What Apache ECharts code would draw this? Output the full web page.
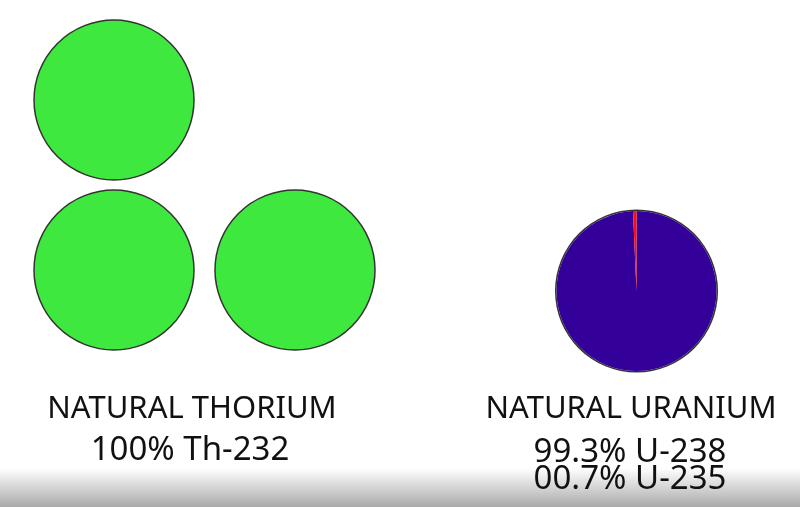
<!DOCTYPE html>
<html>
<head>
<meta charset="utf-8">
<script src="https://cdn.jsdelivr.net/npm/echarts@6/dist/echarts.min.js"></script>
<style>html,body{margin:0;padding:0;background:#fff;}#c{width:800px;height:507px;}</style>
</head>
<body>
<div id="c"></div>
<script>
// Data
const thoriumIsotopes = ['Th-232'];
const thoriumShares = [100];
const uraniumIsotopes = ['U-238', 'U-235'];
const uraniumShares = [99.3, 0.7];
const thoriumLabels = ['NATURAL THORIUM', '100% Th-232'];
const uraniumLabels = ['NATURAL URANIUM', '99.3% U-238', '00.7% U-235'];

const GREEN = '#3ee83e', PURPLE = '#330099', RED = '#ff0a1a', EDGE = '#333333';
const chart = echarts.init(document.getElementById('c'), null, {renderer: 'canvas'});

function thoriumPie(center) {
  return {
    type: 'pie', center: center, radius: 80, silent: true, startAngle: 90,
    label: {show: false}, labelLine: {show: false},
    itemStyle: {color: GREEN, borderColor: EDGE, borderWidth: 1.5},
    data: thoriumIsotopes.map((n, i) => ({name: n, value: thoriumShares[i]}))
  };
}
const font = '"Noto Sans", sans-serif';
chart.setOption({
  animation: false,
  backgroundColor: '#fff',
  series: [
    thoriumPie([114, 100]),
    thoriumPie([114, 270]),
    thoriumPie([295, 270]),
    {
      type: 'pie', center: [636.5, 291], radius: [80, 81.5], silent: true,
      label: {show: false}, labelLine: {show: false},
      itemStyle: {color: EDGE, borderWidth: 0},
      data: [{name: 'outline', value: 1}]
    },
    {
      type: 'pie', center: [636.5, 291], radius: 80, silent: true, startAngle: 90, clockwise: true,
      label: {show: false}, labelLine: {show: false},
      itemStyle: {borderWidth: 0},
      data: uraniumIsotopes.map((n, i) => ({name: n, value: uraniumShares[i], itemStyle: {color: i === 0 ? PURPLE : RED}}))
    }
  ],
  graphic: [
    {type: 'rect', z: -1, shape: {x: 0, y: 468, width: 800, height: 39},
     style: {fill: new echarts.graphic.LinearGradient(0, 0, 0, 1, [
       {offset: 0, color: 'rgba(255,255,255,1)'},
       {offset: 1, color: 'rgba(170,170,170,1)'}])}},
    {type: 'text', x: 192, y: 409, style: {text: thoriumLabels[0], font: '31px ' + font, fill: '#111', align: 'center', verticalAlign: 'middle'}},
    {type: 'text', x: 190, y: 451, style: {text: thoriumLabels[1], font: '33px ' + font, fill: '#111', align: 'center', verticalAlign: 'middle'}},
    {type: 'text', x: 631, y: 409, style: {text: uraniumLabels[0], font: '31px ' + font, fill: '#111', align: 'center', verticalAlign: 'middle'}},
    {type: 'text', x: 630, y: 453, style: {text: uraniumLabels[1], font: '33px ' + font, fill: '#111', align: 'center', verticalAlign: 'middle'}},
    {type: 'text', x: 630, y: 480, style: {text: uraniumLabels[2], font: '33px ' + font, fill: '#111', align: 'center', verticalAlign: 'middle'}}
  ]
});
</script>
</body>
</html>
